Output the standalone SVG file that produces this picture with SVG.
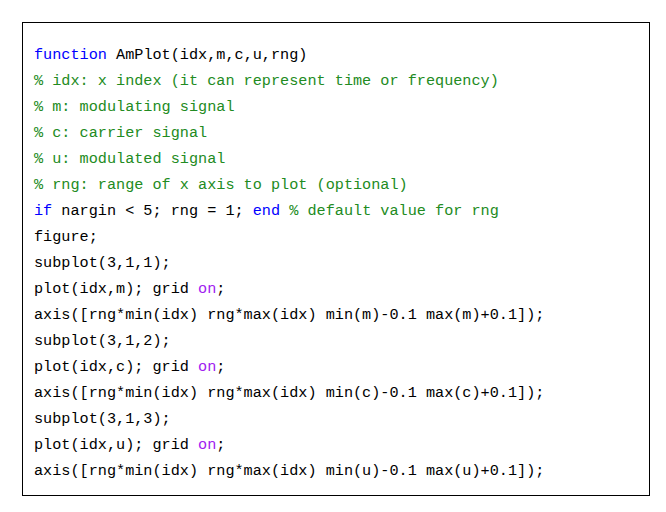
<svg xmlns="http://www.w3.org/2000/svg" width="666" height="512" viewBox="0 0 666 512">
<style>
text{font-family:"Liberation Mono","Courier New",monospace;font-size:15.2px;fill:#000;white-space:pre}
.k{fill:#0000FF}.c{fill:#228B22}.s{fill:#A020F0}
</style>
<rect width="666" height="512" fill="#fff"/>
<g id="frame"><rect x="22.5" y="22.5" width="627" height="473" fill="none" stroke="#000" stroke-width="1"/></g>
<g id="code">
<text x="34" y="59"><tspan class="k">function</tspan> AmPlot(idx,m,c,u,rng)</text>
<text x="34" y="85" class="c">% idx: x index (it can represent time or frequency)</text>
<text x="34" y="111" class="c">% m: modulating signal</text>
<text x="34" y="137" class="c">% c: carrier signal</text>
<text x="34" y="163" class="c">% u: modulated signal</text>
<text x="34" y="189" class="c">% rng: range of x axis to plot (optional)</text>
<text x="34" y="215"><tspan class="k">if</tspan> nargin &lt; 5; rng = 1; <tspan class="k">end</tspan> <tspan class="c">% default value for rng</tspan></text>
<text x="34" y="241">figure;</text>
<text x="34" y="267">subplot(3,1,1);</text>
<text x="34" y="293">plot(idx,m); grid <tspan class="s">on</tspan>;</text>
<text x="34" y="319">axis([rng*min(idx) rng*max(idx) min(m)-0.1 max(m)+0.1]);</text>
<text x="34" y="345">subplot(3,1,2);</text>
<text x="34" y="371">plot(idx,c); grid <tspan class="s">on</tspan>;</text>
<text x="34" y="397">axis([rng*min(idx) rng*max(idx) min(c)-0.1 max(c)+0.1]);</text>
<text x="34" y="423">subplot(3,1,3);</text>
<text x="34" y="449">plot(idx,u); grid <tspan class="s">on</tspan>;</text>
<text x="34" y="475">axis([rng*min(idx) rng*max(idx) min(u)-0.1 max(u)+0.1]);</text>
</g>
</svg>
